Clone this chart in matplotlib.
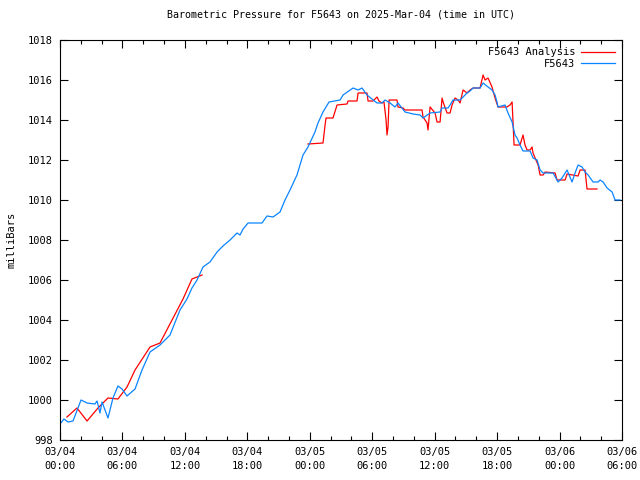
import numpy as np
import pandas as pd
import matplotlib
matplotlib.use("Agg")
import matplotlib.pyplot as plt
import matplotlib.dates as mdates

#------------------------
# data (hours after 2025-03-04 00:00 UTC, millibars)
start = pd.Timestamp("2025-03-04 00:00")

obs_hours = [0.0, 0.38, 0.77, 1.25, 2.02, 2.6, 3.36, 3.56, 3.84, 4.04, 4.61, 5.09, 5.57, 5.96,
             6.44, 7.21, 7.88, 8.65, 9.61, 10.57, 11.53, 12.2, 12.68, 13.17, 13.74, 14.41,
             15.09, 15.66, 16.34, 17.01, 17.3, 17.59, 18.07, 19.41, 19.89, 20.47, 21.14,
             21.62, 22.1, 22.77, 23.35, 23.83, 24.5, 24.79, 25.27, 25.85, 26.91, 27.2, 28.16,
             28.64, 29.02, 29.5, 29.98, 30.46, 30.94, 31.23, 31.71, 32.19, 32.48, 33.15,
             33.92, 34.6, 34.88, 35.56, 36.52, 36.71, 37.28, 37.48, 37.76, 38.44, 38.73,
             39.11, 39.4, 39.69, 40.36, 40.65, 41.13, 41.51, 41.8, 41.99, 42.09, 42.76,
             43.05, 43.44, 43.72, 43.92, 44.2, 44.49, 45.17, 45.45, 45.84, 46.13, 46.42,
             47.38, 47.86, 48.24, 48.72, 49.2, 49.49, 49.78, 50.16, 50.45, 50.74, 51.22,
             51.7, 51.89, 52.18, 52.57, 53.05, 53.33, 53.81]
obs_mb = [998.8, 999.05, 998.9, 998.95, 1000.0, 999.85, 999.8, 999.95, 999.35, 999.9, 999.1,
          1000.1, 1000.7, 1000.55, 1000.2, 1000.55, 1001.5, 1002.4, 1002.75, 1003.25, 1004.5,
          1005.05, 1005.6, 1006.0, 1006.65, 1006.9, 1007.4, 1007.7, 1008.0, 1008.35, 1008.25,
          1008.55, 1008.85, 1008.85, 1009.2, 1009.15, 1009.4, 1010.0, 1010.5, 1011.25,
          1012.25, 1012.65, 1013.4, 1013.85, 1014.4, 1014.9, 1015.0, 1015.25, 1015.6, 1015.5,
          1015.6, 1015.25, 1015.05, 1014.85, 1014.85, 1015.0, 1014.85, 1014.65, 1014.85,
          1014.4, 1014.3, 1014.25, 1014.1, 1014.35, 1014.4, 1014.6, 1014.6, 1014.75, 1015.0,
          1015.0, 1015.15, 1015.35, 1015.45, 1015.6, 1015.6, 1015.85, 1015.65, 1015.5,
          1015.25, 1014.9, 1014.65, 1014.75, 1014.35, 1013.9, 1013.25, 1013.1, 1012.75,
          1012.45, 1012.45, 1012.1, 1012.0, 1011.5, 1011.35, 1011.35, 1010.9, 1011.1, 1011.5,
          1010.9, 1011.35, 1011.75, 1011.65, 1011.4, 1011.25, 1010.9, 1010.9, 1011.0, 1010.9,
          1010.6, 1010.4, 1010.0, 1010.0]

# analysis series, NaN marks the gap with no analysis values
ana_hours = [0.67, 1.63, 2.6, 3.65, 4.61, 5.57, 6.44, 7.21, 8.65, 9.61, 11.82, 12.68, 13.17,
             13.65, 18.0,
             23.83, 25.27, 25.47, 25.56, 26.23, 26.62, 27.58, 27.68, 28.54, 28.64, 29.5, 29.6,
             30.08, 30.46, 30.65, 30.94, 31.13, 31.33, 31.42, 31.52, 31.62, 32.38, 32.48,
             32.96, 33.15, 34.79, 34.88, 35.27, 35.36, 35.56, 36.04, 36.23, 36.52, 36.71,
             36.81, 37.19, 37.48, 37.67, 37.96, 38.25, 38.44, 38.73, 39.11, 39.4, 39.69,
             40.36, 40.65, 40.84, 41.13, 41.51, 41.8, 42.09, 42.95, 43.24, 43.44, 43.63, 44.2,
             44.49, 44.68, 44.88, 45.17, 45.36, 45.45, 45.65, 45.94, 46.13, 46.42, 46.61,
             47.57, 47.76, 48.53, 48.72, 49.78, 49.97, 50.45, 50.64, 51.6]
ana_mb = [999.15, 999.6, 998.95, 999.6, 1000.1, 1000.05, 1000.65, 1001.5, 1002.65, 1002.85,
          1005.05, 1006.05, 1006.15, 1006.25, np.nan,
          1012.8, 1012.85, 1013.75, 1014.1, 1014.1, 1014.75, 1014.8, 1014.95, 1014.95,
          1015.35, 1015.35, 1014.95, 1014.95, 1015.15, 1014.95, 1014.85, 1014.9, 1014.0,
          1013.25, 1013.65, 1015.0, 1015.0, 1014.65, 1014.6, 1014.5, 1014.5, 1014.15,
          1013.85, 1013.5, 1014.65, 1014.35, 1013.9, 1013.9, 1015.1, 1014.9, 1014.35,
          1014.35, 1014.75, 1015.1, 1015.0, 1014.85, 1015.5, 1015.35, 1015.5, 1015.6, 1015.6,
          1016.25, 1016.0, 1016.1, 1015.65, 1015.1, 1014.65, 1014.65, 1014.75, 1014.9,
          1012.75, 1012.75, 1013.25, 1012.75, 1012.5, 1012.5, 1012.65, 1012.35, 1012.1,
          1011.75, 1011.25, 1011.25, 1011.4, 1011.35, 1011.0, 1011.0, 1011.3, 1011.2,
          1011.5, 1011.5, 1010.55, 1010.55]

obs_t = start + pd.to_timedelta(obs_hours, unit="h")
ana_t = start + pd.to_timedelta(ana_hours, unit="h")

#------------------------
plt.rcParams["font.family"] = "DejaVu Sans Mono"
plt.rcParams["font.size"] = 7.5

fig = plt.figure(figsize=(6.4, 4.8), dpi=100)
ax = fig.add_axes([60 / 640, 40 / 480, 562 / 640, 400 / 480])

ax.plot(ana_t, ana_mb, color="#ff0000", lw=0.9, label="F5643 Analysis")
ax.plot(obs_t, obs_mb, color="#0a84ff", lw=0.9, label="F5643")

ax.set_xlim(start, start + pd.Timedelta(hours=54))
ax.set_ylim(998, 1018)
ax.set_yticks(np.arange(998, 1019, 2))

ax.xaxis.set_major_locator(mdates.HourLocator(byhour=range(0, 24, 6)))
ax.xaxis.set_minor_locator(mdates.HourLocator(byhour=range(0, 24, 2)))
ax.xaxis.set_major_formatter(mdates.DateFormatter("%m/%d\n%H:%M"))

ax.tick_params(which="both", direction="in", top=True, right=True, width=0.8, pad=5)
ax.tick_params(which="major", length=6)
ax.tick_params(which="minor", length=3)
for lbl in ax.get_xticklabels():
    lbl.set_linespacing(1.5)
for s in ax.spines.values():
    s.set_linewidth(0.8)

ax.set_ylabel("milliBars", labelpad=8)
ax.set_title("Barometric Pressure for F5643 on 2025-Mar-04 (time in UTC)", fontsize=7.2, pad=16)

ax.legend(loc="upper right", frameon=False, markerfirst=False, handlelength=3.2,
          borderaxespad=0.3, labelspacing=0.15, handletextpad=0.6)

fig.savefig("out.png", dpi=100)
